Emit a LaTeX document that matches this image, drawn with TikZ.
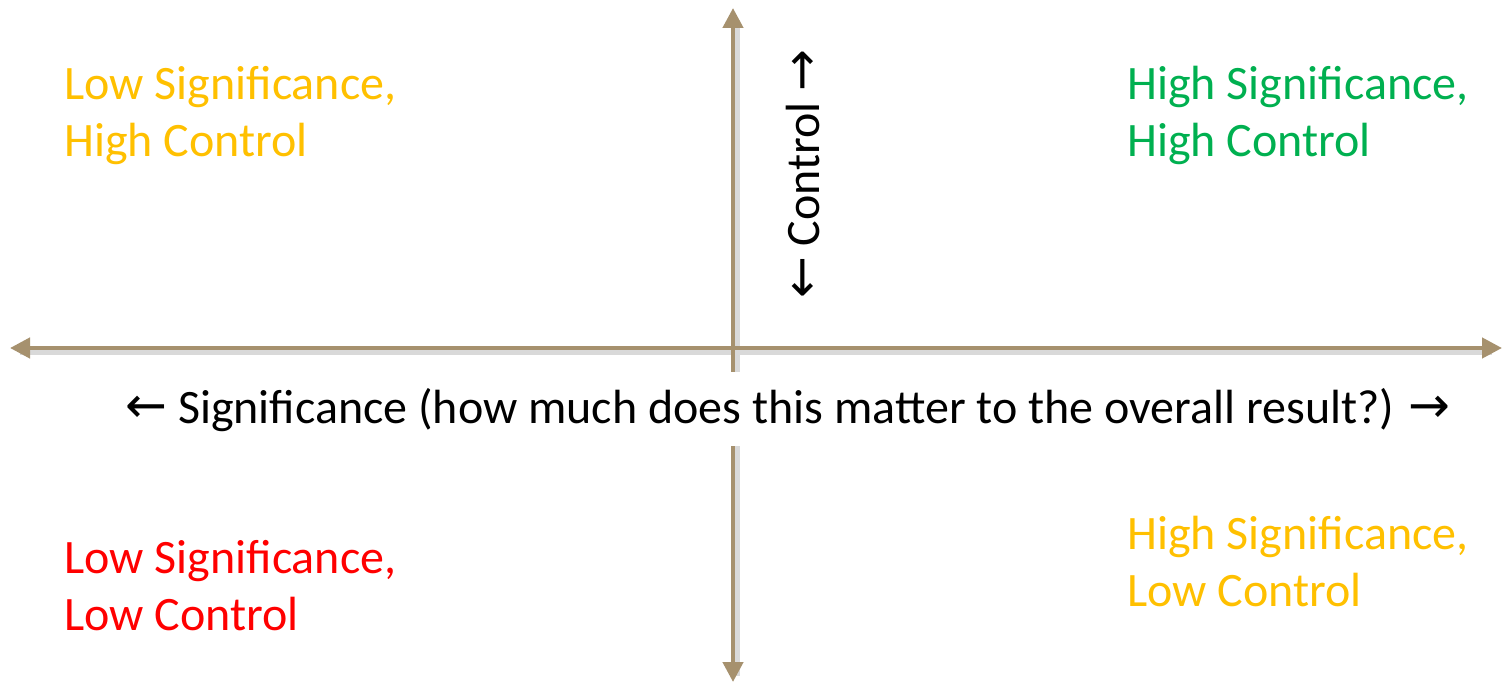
\documentclass[tikz,border=0pt]{standalone}
\usepackage{fontspec}
\setmainfont{Carlito}
\newfontfamily\arrowfont{DejaVu Sans}
\usetikzlibrary{arrows.meta}
\definecolor{axis}{RGB}{166,145,110}
\definecolor{qyellow}{RGB}{255,192,0}
\definecolor{qgreen}{RGB}{0,176,80}
\definecolor{qred}{RGB}{255,0,0}
\tikzset{
  axisline/.style={draw=axis, line width=2.2pt, -{Triangle[length=10pt,width=10pt]}},
  shadowline/.style={draw=black!15, line width=2.8pt},
  quad/.style={anchor=north west, inner sep=0pt, align=left, font=\fontsize{24}{28.5}\selectfont},
  axlabel/.style={inner sep=0pt, font=\fontsize{24}{28}\selectfont},
}
\newcommand{\la}{\raisebox{0.5pt}{\arrowfont\fontsize{25}{25}\selectfont ←}}
\newcommand{\ra}{\raisebox{0.5pt}{\arrowfont\fontsize{25}{25}\selectfont →}}
\begin{document}
\begin{tikzpicture}[x=0.5pt,y=-0.5pt]
\useasboundingbox[fill=white] (0,0) rectangle (1504,684);
\coordinate (O) at (733,348);
\coordinate (L) at (10,348);
\coordinate (R) at (1502,348);
\coordinate (T) at (733,8);
\coordinate (B) at (733,682);
% shadows
\draw[shadowline] (737,20) -- (737,676);
\draw[shadowline] (20,352) -- (1492,352);
% axes
\draw[axisline] (O) -- (L);
\draw[axisline] (O) -- (R);
\draw[axisline] (O) -- (T);
\draw[axisline] (O) -- (B);
% significance label with white background
\fill[white] (120,372) rectangle (1460,446);
\node[axlabel] (sig) at (788,410) {\la\ Significance (how much does this matter to the overall result?) \ra};
\node[axlabel, rotate=90] (ctl) at (803,174) {\la\ Control \ra};
% quadrants
\node[quad, text=qyellow] (q1) at (64,66) {Low Significance,\\High Control};
\node[quad, text=qgreen] (q2) at (1127,66) {High Significance,\\High Control};
\node[quad, text=qred] (q3) at (64,540) {Low Significance,\\Low Control};
\node[quad, text=qyellow] (q4) at (1127,516) {High Significance,\\Low Control};
\end{tikzpicture}
\end{document}
